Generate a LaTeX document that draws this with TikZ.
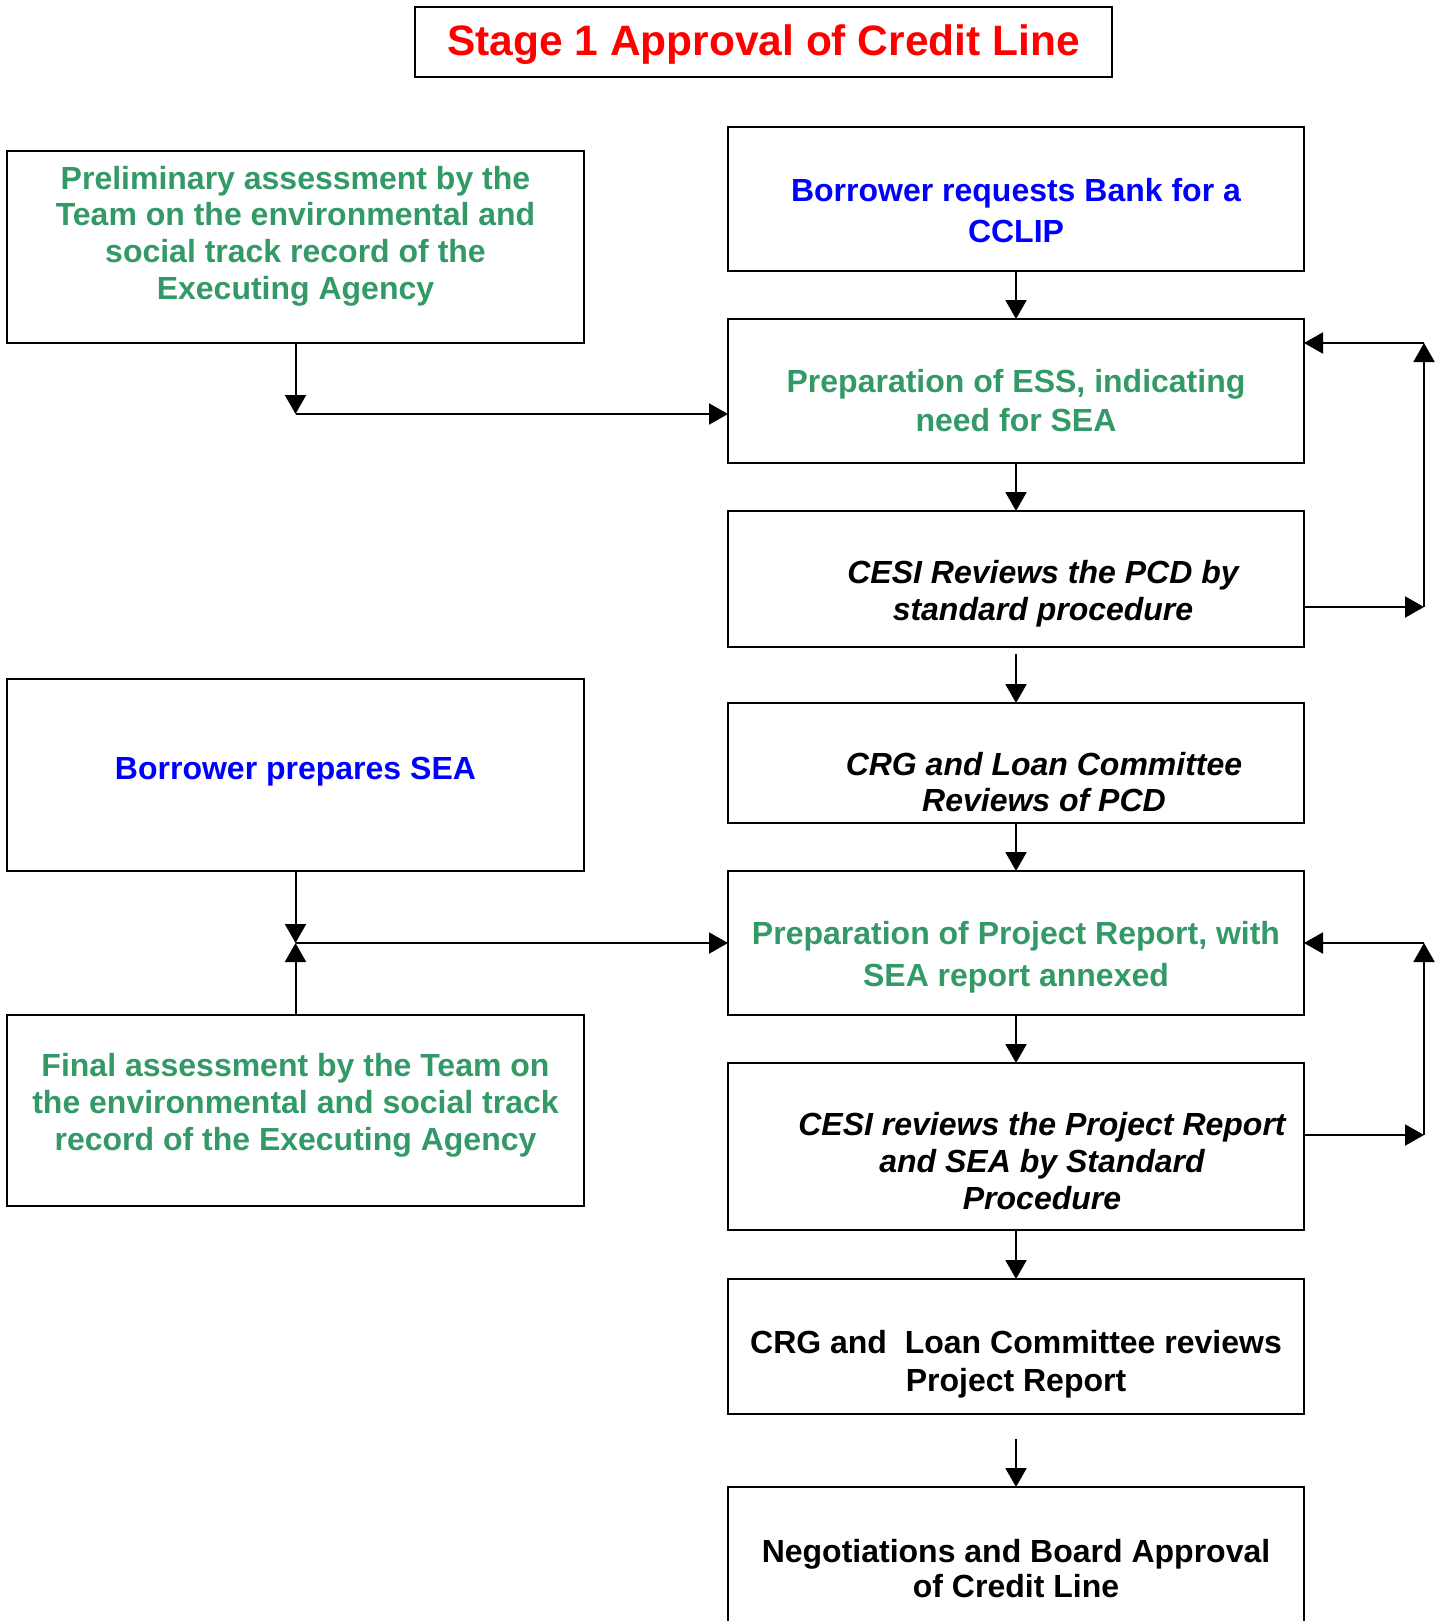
\documentclass[tikz,border=0pt]{standalone}
\usepackage{fontspec}
\setmainfont{Liberation Sans}
\usetikzlibrary{positioning, arrows.meta}

\definecolor{seagreen}{RGB}{51,153,102}

\begin{document}
\begin{tikzpicture}[x=0.5pt, y=-0.5pt, node distance=24pt, line width=1pt,
	>={Triangle[length=9.5pt,width=10.5pt]},
	box/.style={draw, line width=1pt, minimum width=288pt, inner sep=0pt, outer sep=0pt},
	leftbox/.style={box, minimum width=288.5pt, minimum height=96pt},
	txt/.style={align=center, font=\bfseries\fontsize{16}{18.4}\selectfont},
	greentxt/.style={txt, text=seagreen},
	bluetxt/.style={txt, text=blue},
	ittxt/.style={txt, font=\bfseries\itshape\fontsize{16}{18.4}\selectfont}]
			\useasboundingbox (0,0) rectangle (1444,1621);
			
			\node[box, minimum width=348.5pt, minimum height=35pt] (title) at (763.5,42) {};
			\node[text=red, font=\bfseries\fontsize{21.25}{25}\selectfont] (titletxt) at ([yshift=-1.5pt]title) {Stage 1 Approval of Credit Line};
			
			% right column
			\node[box, minimum height=72pt] (b1) at (1016,199) {};
			\node[box, minimum height=72pt, below=of b1] (b2) {};
			\node[box, minimum height=68pt, below=of b2] (b3) {};
			\node[box, minimum height=60pt, below=28pt of b3] (b4) {};
			\node[box, minimum height=72pt, below=of b4] (b5) {};
			\node[box, minimum height=83.5pt, below=of b5] (b6) {};
			\node[box, minimum height=67.5pt, below=24.5pt of b6] (b7) {};
			\node[box, minimum height=81.5pt, below=36.5pt of b7] (b8) {};
			
			% left column
			\node[leftbox] (l1) at (295.5,247) {};
			\node[leftbox] (l2) at (295.5,775) {};
			\node[leftbox, minimum height=95.5pt, below=72pt of l2] (l3) {};
			
			\node[greentxt] (l1txt) at ([yshift=5.5pt]l1) {Preliminary assessment by the\\Team on the environmental and\\social track record of the\\Executing Agency};
			\node[bluetxt, font=\bfseries\fontsize{16}{20.5}\selectfont] (b1txt) at ([yshift=-6pt]b1) {Borrower requests Bank for a\\CCLIP};
			\node[greentxt, font=\bfseries\fontsize{16}{19.5}\selectfont] (b2txt) at ([yshift=-5pt]b2) {Preparation of ESS, indicating\\need for SEA};
			\node[ittxt] (b3txt) at ([xshift=13.5pt,yshift=-7.5pt]b3) {CESI Reviews the PCD by\\standard procedure};
			\node[ittxt] (b4txt) at ([xshift=14pt,yshift=-9.5pt]b4) {CRG and Loan Committee\\Reviews of PCD};
			\node[bluetxt] (l2txt) at ([yshift=1.5pt]l2) {Borrower prepares SEA};
			\node[greentxt, font=\bfseries\fontsize{16}{21.2}\selectfont] (b5txt) at ([yshift=-7.25pt]b5) {Preparation of Project Report, with\\SEA report annexed};
			\node[greentxt] (l3txt) at ([yshift=2.75pt]l3) {Final assessment by the Team on\\the environmental and social track\\record of the Executing Agency};
			\node[ittxt] (b6txt) at ([xshift=13pt,yshift=-7.25pt]b6) {CESI reviews the Project Report\\and SEA by Standard\\Procedure};
			\node[txt, font=\bfseries\fontsize{16}{19}\selectfont] (b7txt) at ([yshift=-8.75pt]b7) {CRG and\ \ Loan Committee reviews\\Project Report};
			\node[txt, font=\bfseries\fontsize{16}{17.5}\selectfont] (b8txt) at (b8) {Negotiations and Board Approval\\of Credit Line};
			
			\coordinate (j1) at (295.5,414);
			\coordinate (j2) at (295.5,943);
			\coordinate (r1) at (1424,607);
			\coordinate (r2) at (1424,343);
			\coordinate (r3) at (1424,1135);
			\coordinate (r4) at (1424,943);
			
			\draw[->] (b1.south) -- (b2.north);
			\draw[->] (b2.south) -- (b3.north);
			\draw[->] ([yshift=-3.5pt]b3.south) -- (b4.north);
			\draw[->] (b4.south) -- (b5.north);
			\draw[->] (b5.south) -- (b6.north);
			\draw[->] (b6.south) -- (b7.north);
			\draw[->] ([yshift=-12.5pt]b7.south) -- (b8.north);
			
			\draw[->] (l1.south) -- (j1);
			\draw[->] (j1) -- (j1 -| b2.west);
			\draw[->] (l2.south) -- (j2);
			\draw[->] (l3.north) -- (j2);
			\draw[->] (j2) -- (j2 -| b5.west);
			
			\draw[->] (r1 -| b3.east) -- (r1);
			\draw[->] (r1) -- (r2);
			\draw[->] (r2) -- (r2 -| b2.east);
			\draw[->] (r3 -| b6.east) -- (r3);
			\draw[->] (r3) -- (r4);
			\draw[->] (r4) -- (r4 -| b5.east);
			
		\end{tikzpicture}
\end{document}
